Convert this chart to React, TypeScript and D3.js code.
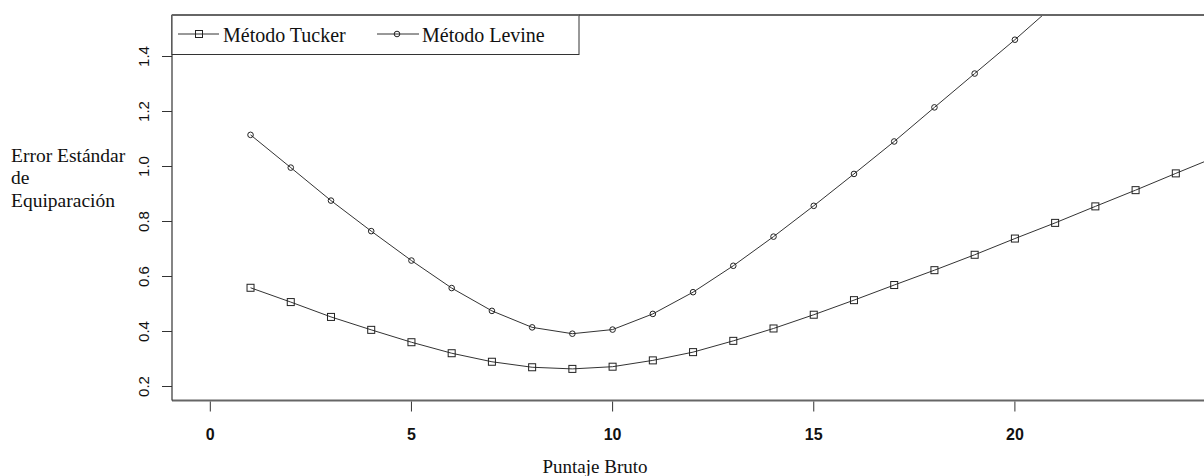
import React from "react";
import * as d3 from "d3";

const puntaje = [1, 2, 3, 4, 5, 6, 7, 8, 9, 10, 11, 12, 13, 14, 15, 16, 17, 18, 19, 20, 21, 22, 23, 24, 25];
const tucker = [0.559, 0.507, 0.453, 0.406, 0.361, 0.321, 0.290, 0.270, 0.264, 0.272, 0.295, 0.325, 0.366, 0.411, 0.461, 0.514, 0.569, 0.623, 0.679, 0.738, 0.795, 0.855, 0.914, 0.975, 1.035];
const levinePuntaje = [1, 2, 3, 4, 5, 6, 7, 8, 9, 10, 11, 12, 13, 14, 15, 16, 17, 18, 19, 20, 21];
const levine = [1.115, 0.996, 0.876, 0.765, 0.658, 0.558, 0.475, 0.415, 0.392, 0.407, 0.464, 0.543, 0.639, 0.745, 0.857, 0.973, 1.091, 1.215, 1.338, 1.461, 1.590];
const xTicks = [0, 5, 10, 15, 20];
const yTicks = [0.2, 0.4, 0.6, 0.8, 1.0, 1.2, 1.4];
const seriesNames = ["Método Tucker", "Método Levine"];
const yLabelLines = ["Error Estándar", "de", "Equiparación"];
const xLabel = "Puntaje Bruto";

const W = 1204;
const H = 476;
const plotLeft = 172;
const plotRight = 1212;
const plotTop = 15;
const plotBottom = 400.5;

export default function App() {
  const x = d3.scaleLinear().domain([0, 20]).range([210.3, 1014.9]);
  const y = d3.scaleLinear().domain([0.2, 1.4]).range([386.5, 56.5]);

  const tData = puntaje.map((p, i) => [p, tucker[i]] as [number, number]);
  const lData = levinePuntaje.map((p, i) => [p, levine[i]] as [number, number]);
  const line = d3
    .line<[number, number]>()
    .x((d) => x(d[0]))
    .y((d) => y(d[1]));

  const serif = "'Liberation Serif', 'Times New Roman', serif";
  const sans = "'Liberation Sans', Arial, sans-serif";
  const ink = "#222";

  return (
    <svg
      width={W}
      height={H}
      style={{ position: "absolute", left: 0, top: 0, background: "#fff" }}
    >
      <defs>
        <clipPath id="plotclip">
          <rect x={plotLeft} y={plotTop} width={plotRight - plotLeft} height={plotBottom - plotTop} />
        </clipPath>
      </defs>
      <rect x={0} y={0} width={W} height={H} fill="#fff" />

      {/* Data */}
      <g clipPath="url(#plotclip)">
        <path d={line(tData) || ""} fill="none" stroke="#333" strokeWidth={1} />
        <path d={line(lData) || ""} fill="none" stroke="#333" strokeWidth={1} />
        {tData.map((d, i) => (
          <rect
            key={"t" + i}
            x={x(d[0]) - 3.5}
            y={y(d[1]) - 3.5}
            width={7}
            height={7}
            fill="none"
            stroke={ink}
            strokeWidth={1}
          />
        ))}
        {lData.map((d, i) => (
          <circle
            key={"l" + i}
            cx={x(d[0])}
            cy={y(d[1])}
            r={2.8}
            fill="none"
            stroke={ink}
            strokeWidth={1}
          />
        ))}
      </g>

      {/* Plot frame */}
      <line x1={plotLeft} x2={W} y1={plotTop} y2={plotTop} stroke="#666" strokeWidth={2} />
      <line x1={plotLeft} x2={W} y1={plotBottom} y2={plotBottom} stroke="#666" strokeWidth={2} />
      <line x1={plotLeft} x2={plotLeft} y1={plotTop} y2={plotBottom} stroke="#333" strokeWidth={1.2} />

      {/* Y axis */}
      {yTicks.map((t) => (
        <g key={"yt" + t}>
          <line x1={162} x2={plotLeft} y1={y(t)} y2={y(t)} stroke="#333" strokeWidth={1} />
          <text
            transform={`translate(149,${y(t)}) rotate(-90)`}
            textAnchor="middle"
            fontFamily={sans}
            fontSize={15}
            fill="#111"
          >
            {t.toFixed(1)}
          </text>
        </g>
      ))}

      {/* X axis */}
      {xTicks.map((t) => (
        <g key={"xt" + t}>
          <line x1={x(t)} x2={x(t)} y1={plotBottom + 1} y2={411.5} stroke="#333" strokeWidth={1} />
          <text
            x={x(t)}
            y={439.5}
            textAnchor="middle"
            fontFamily={sans}
            fontSize={16}
            fontWeight="bold"
            fill="#111"
          >
            {t}
          </text>
        </g>
      ))}

      {/* Axis labels */}
      <text x={595} y={473} textAnchor="middle" fontFamily={serif} fontSize={19} fill="#111">
        {xLabel}
      </text>
      {yLabelLines.map((s, i) => (
        <text key={s} x={11} y={161.5 + i * 22.6} fontFamily={serif} fontSize={19.5} fill="#111">
          {s}
        </text>
      ))}

      {/* Legend */}
      <rect x={172} y={plotTop} width={407} height={39.5} fill="#fff" stroke="#333" strokeWidth={1} />
      <line x1={plotLeft} x2={579} y1={plotTop} y2={plotTop} stroke="#666" strokeWidth={2} />
      <line x1={178} x2={219} y1={34} y2={34} stroke="#333" strokeWidth={1} />
      <rect x={199 - 3.5} y={34 - 3.5} width={7} height={7} fill="none" stroke={ink} strokeWidth={1} />
      <text x={223} y={41.5} fontFamily={serif} fontSize={20} fill="#111">
        {seriesNames[0]}
      </text>
      <line x1={377} x2={419} y1={34} y2={34} stroke="#333" strokeWidth={1} />
      <circle cx={397} cy={34} r={2.8} fill="none" stroke={ink} strokeWidth={1} />
      <text x={422} y={41.5} fontFamily={serif} fontSize={20} fill="#111">
        {seriesNames[1]}
      </text>
    </svg>
  );
}
